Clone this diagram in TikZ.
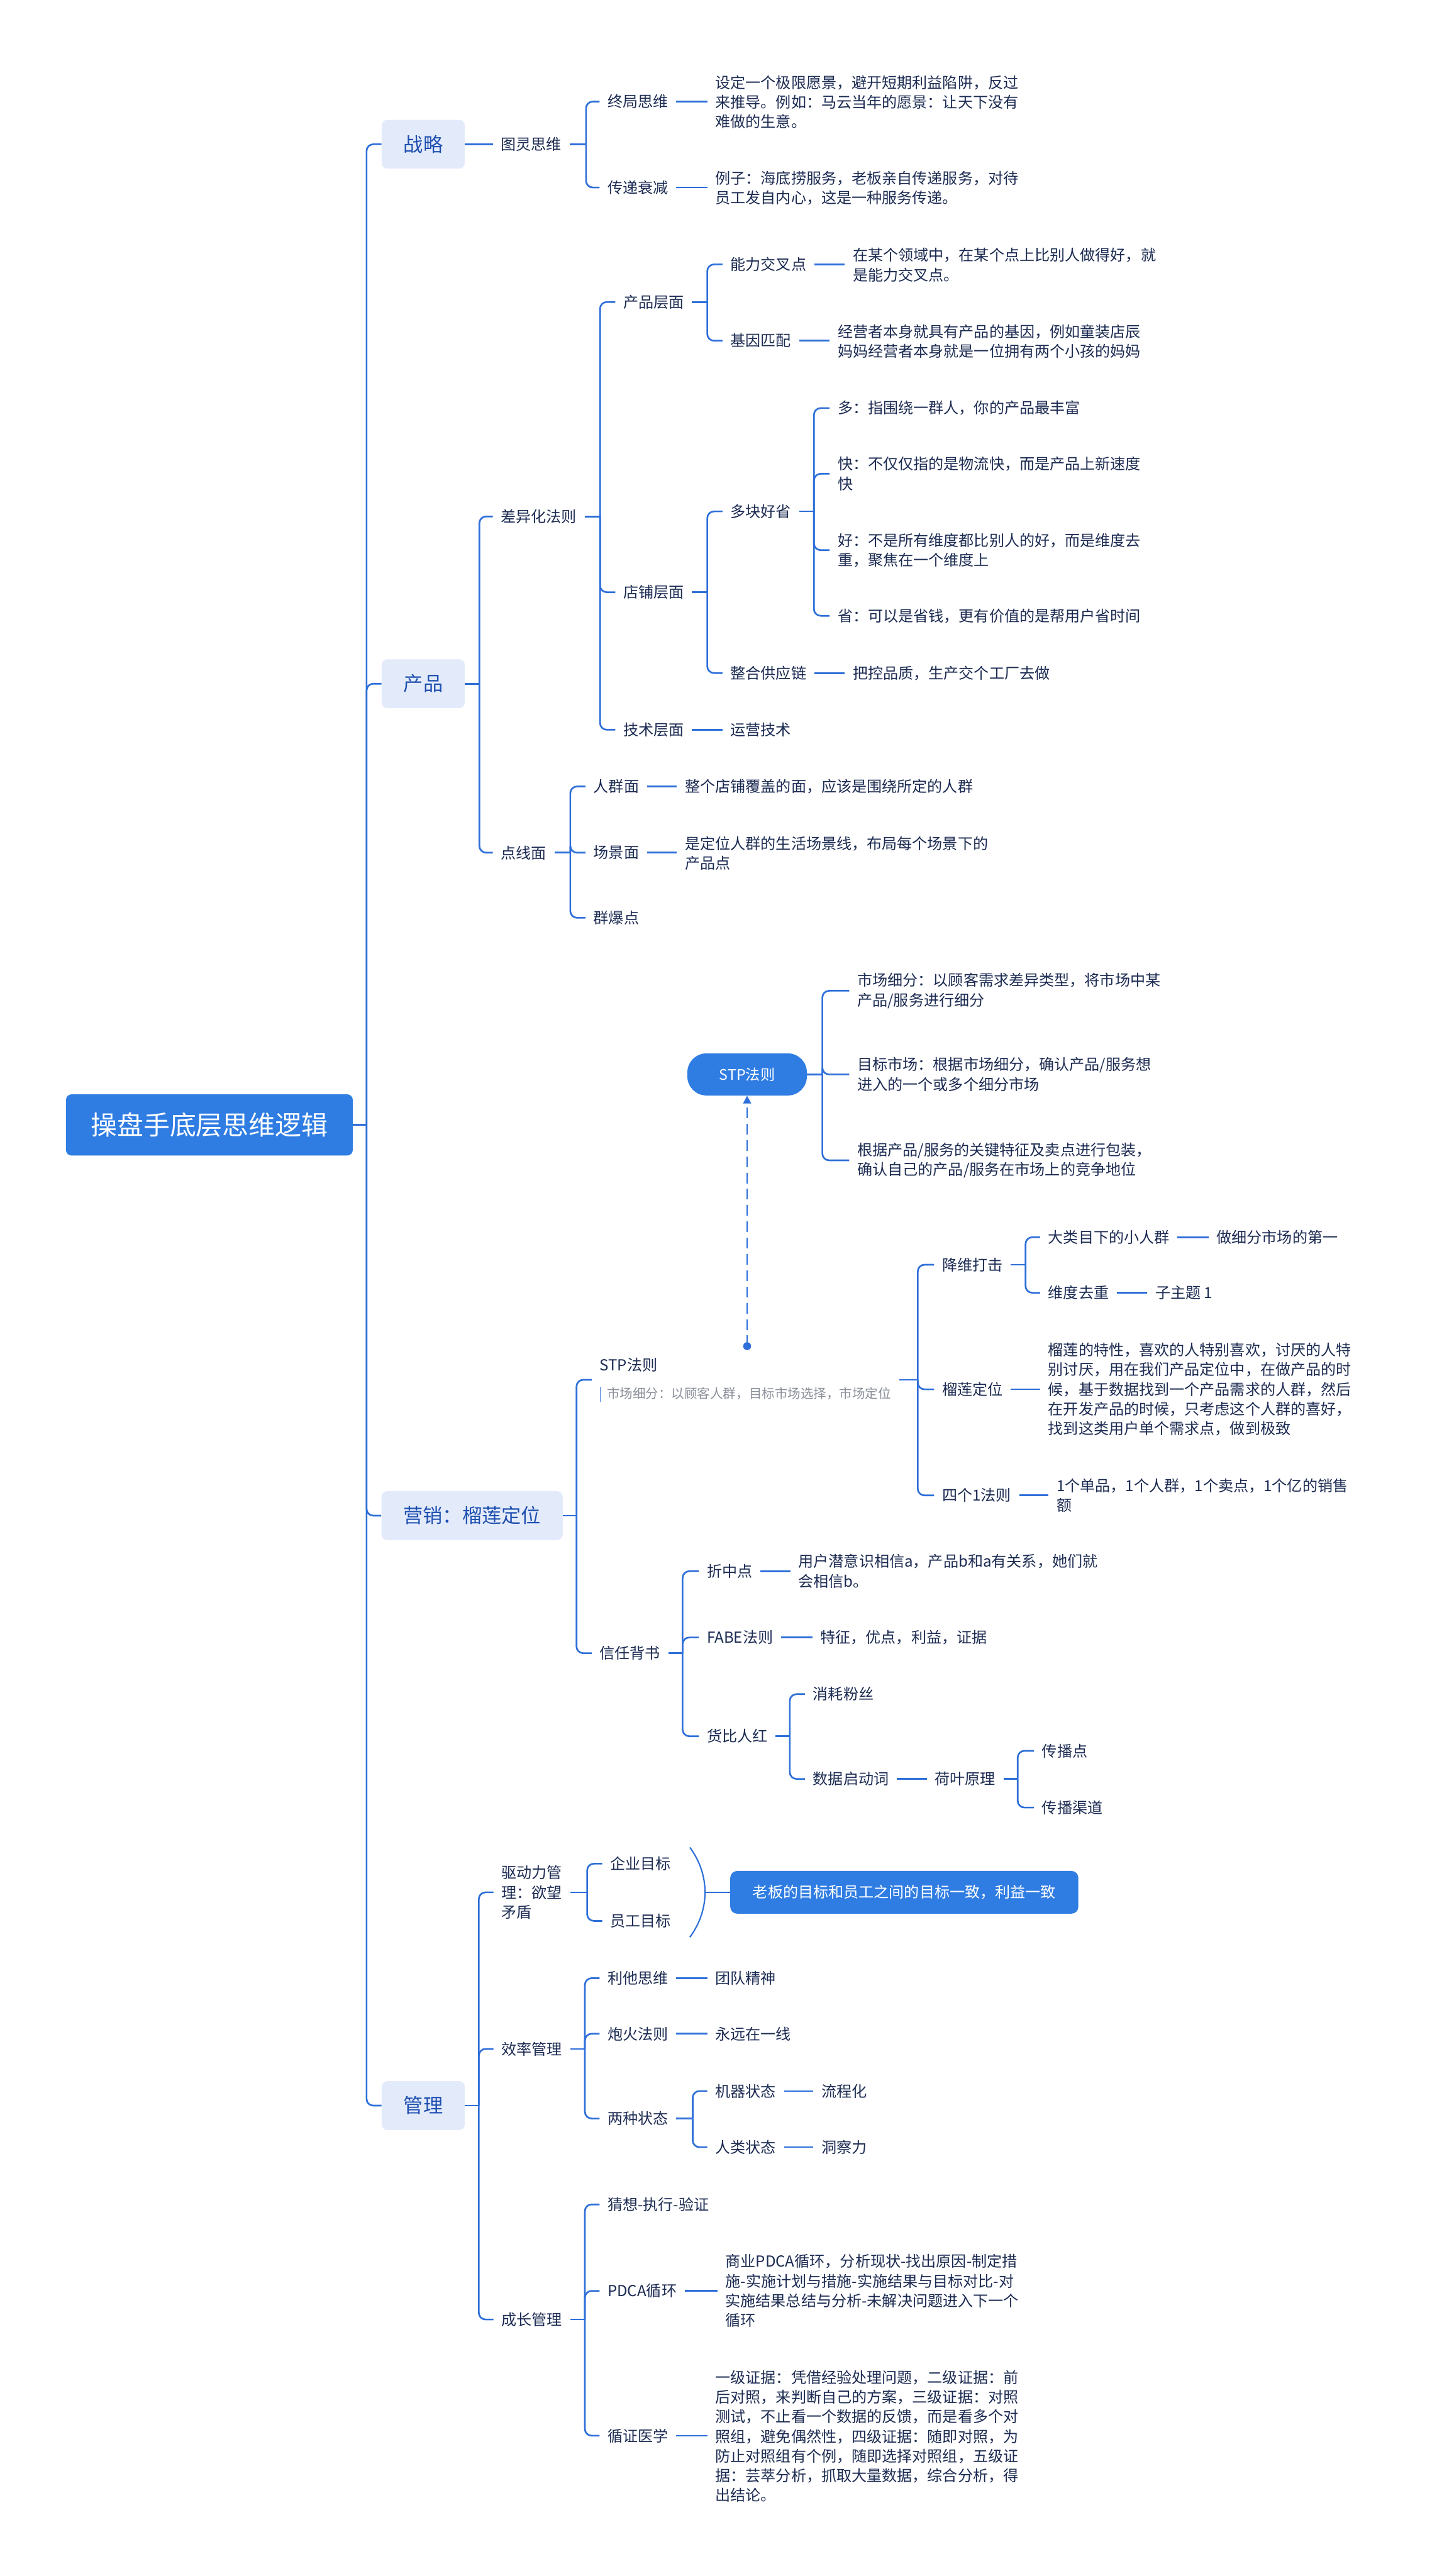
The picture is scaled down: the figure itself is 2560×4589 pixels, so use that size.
\documentclass[tikz,border=0pt]{standalone}
\usepackage{fontspec}
\setmainfont{Noto Sans CJK SC}
\usetikzlibrary{arrows.meta,calc}
\definecolor{lnc}{HTML}{2E6FD9}
\definecolor{txc}{HTML}{1C2B52}
\definecolor{l1fill}{HTML}{E3EBFB}
\definecolor{l1txt}{HTML}{1E4FAF}
\definecolor{rootfill}{HTML}{2F7DE3}
\definecolor{notec}{HTML}{8A8F99}
\definecolor{barc}{HTML}{7FA6E8}
\newcommand\bodyf{\fontsize{13.5pt}{17.5pt}\selectfont}
\newcommand\notef{\fontsize{11.5pt}{14pt}\selectfont}
\newcommand\kids[3]{%
  \path (#1.east) coordinate (pe);
  \coordinate (sp) at (#2,0);
  \draw[conn] (pe) -- (pe -| sp);
  \foreach \kk in {#3} {\draw[conn,rounded corners=6pt] (pe -| sp) |- (\kk.west);}
}
\newcommand\lnk[2]{\draw[conn] (#1.east) -- (#1.east -| #2.west);}
\begin{document}
\begin{tikzpicture}[x=0.5pt,y=-0.5pt,
  conn/.style={draw=lnc,line width=1.5pt},
  t/.style={anchor=west,inner xsep=7pt,inner ysep=2pt,align=left,text=txc,font=\bodyf},
  l1/.style={anchor=center,fill=l1fill,rounded corners=5pt,inner xsep=19.5pt,minimum height=43.5pt,text=l1txt,font=\fontsize{17.5pt}{21pt}\selectfont},
  rootbox/.style={anchor=center,fill=rootfill,rounded corners=5pt,minimum width=255.5pt,minimum height=54.5pt,text=white,font=\fontsize{23.5pt}{28pt}\selectfont},
  bubble/.style={anchor=center,fill=rootfill,rounded corners=17pt,minimum width=106.5pt,minimum height=37.5pt,text=white,font=\fontsize{13pt}{16pt}\selectfont},
  sumbox/.style={anchor=center,fill=rootfill,rounded corners=6pt,minimum width=310pt,minimum height=38pt,text=white,font=\bodyf}
]
\useasboundingbox (0,0) rectangle (2560,4589);
\fill[white] (0,0) rectangle (2560,4589);

% root and level 1
\node[rootbox] (root) at (373,2004) {操盘手底层思维逻辑};
\node[l1] (zl) at (754,257) {战略};
\node[l1] (cp) at (754,1218) {产品};
\node[l1] (yx) at (841,2700) {营销：榴莲定位};
\node[l1] (gl) at (754,3751) {管理};
\kids{root}{653}{zl,cp,yx,gl}

% ---------- 战略
\node[t] (tl) at (878,257) {图灵思维};
\node[t] (jj) at (1068,181) {终局思维};
\node[t] (jjL) at (1260,182) {设定一个极限愿景，避开短期利益陷阱，反过\\来推导。例如：马云当年的愿景：让天下没有\\难做的生意。};
\node[t] (cd) at (1068,334) {传递衰减};
\node[t] (cdL) at (1260,335) {例子：海底捞服务，老板亲自传递服务，对待\\员工发自内心，这是一种服务传递。};
\lnk{zl}{tl}
\kids{tl}{1044}{jj,cd}
\lnk{jj}{jjL}
\lnk{cd}{cdL}

% ---------- 产品
\node[t] (cy) at (878,920) {差异化法则};
\node[t] (dx) at (878,1519) {点线面};
\kids{cp}{854}{cy,dx}
\node[t] (cpc) at (1096,538) {产品层面};
\node[t] (dp) at (1096,1055) {店铺层面};
\node[t] (js) at (1096,1300) {技术层面};
\kids{cy}{1069}{cpc,dp,js}
\node[t] (nl) at (1287,471) {能力交叉点};
\node[t] (nlL) at (1505,472) {在某个领域中，在某个点上比别人做得好，就\\是能力交叉点。};
\node[t] (jy) at (1287,607) {基因匹配};
\node[t] (jyL) at (1478,608) {经营者本身就具有产品的基因，例如童装店辰\\妈妈经营者本身就是一位拥有两个小孩的妈妈};
\kids{cpc}{1260}{nl,jy}
\lnk{nl}{nlL}
\lnk{jy}{jyL}
\node[t] (dk) at (1287,911) {多块好省};
\node[t] (zh) at (1287,1199) {整合供应链};
\kids{dp}{1260}{dk,zh}
\node[t] (d1) at (1478,727) {多：指围绕一群人，你的产品最丰富};
\node[t] (d2) at (1478,844) {快：不仅仅指的是物流快，而是产品上新速度\\快};
\node[t] (d3) at (1478,980) {好：不是所有维度都比别人的好，而是维度去\\重，聚焦在一个维度上};
\node[t] (d4) at (1478,1097) {省：可以是省钱，更有价值的是帮用户省时间};
\kids{dk}{1450}{d1,d2,d3,d4}
\node[t] (zhL) at (1505,1199) {把控品质，生产交个工厂去做};
\lnk{zh}{zhL}
\node[t] (jsL) at (1287,1300) {运营技术};
\lnk{js}{jsL}
\node[t] (rq) at (1043,1401) {人群面};
\node[t] (cj) at (1043,1519) {场景面};
\node[t] (qb) at (1043,1635) {群爆点};
\kids{dx}{1016}{rq,cj,qb}
\node[t] (rqL) at (1206,1401) {整个店铺覆盖的面，应该是围绕所定的人群};
\node[t] (cjL) at (1206,1520) {是定位人群的生活场景线，布局每个场景下的\\产品点};
\lnk{rq}{rqL}
\lnk{cj}{cjL}

% ---------- 营销
\node[t] (stp) at (1054,2458) {STP法则\\[7pt]{\notef\textcolor{barc}{\rule[-3pt]{1.5pt}{13pt}}\hspace{5pt}\textcolor{notec}{市场细分：以顾客人群，目标市场选择，市场定位}}};
\node[t] (xr) at (1054,2945) {信任背书};
\kids{yx}{1027}{stp,xr}
\node[bubble] (bub) at (1331,1914) {STP法则};
\coordinate (stpdot) at (1331,2398);
\draw[draw=lnc,line width=1.5pt,dash pattern=on 9.5pt off 5pt,-{Triangle[length=7pt,width=7pt]}] (stpdot) -- (bub.south);
\fill[lnc] (stpdot) circle (3.5pt);
\node[t] (b1) at (1513,1765) {市场细分：以顾客需求差异类型，将市场中某\\产品/服务进行细分};
\node[t] (b2) at (1513,1914) {目标市场：根据市场细分，确认产品/服务想\\进入的一个或多个细分市场};
\node[t] (b3) at (1513,2067) {根据产品/服务的关键特征及卖点进行包装，\\确认自己的产品/服务在市场上的竞争地位};
\kids{bub}{1465}{b1,b2,b3}
\node[t] (jw) at (1664,2253) {降维打击};
\node[t] (ll) at (1664,2475) {榴莲定位};
\node[t] (s1) at (1664,2664) {四个1法则};
\kids{stp}{1635}{jw,ll,s1}
\node[t] (dl) at (1853,2204) {大类目下的小人群};
\node[t] (wd) at (1853,2303) {维度去重};
\kids{jw}{1827}{dl,wd}
\node[t] (dlL) at (2153,2204) {做细分市场的第一};
\node[t] (wdL) at (2044,2303) {子主题 1};
\lnk{dl}{dlL}
\lnk{wd}{wdL}
\node[t] (llL) at (1853,2475) {榴莲的特性，喜欢的人特别喜欢，讨厌的人特\\别讨厌，用在我们产品定位中，在做产品的时\\候，基于数据找到一个产品需求的人群，然后\\在开发产品的时候，只考虑这个人群的喜好，\\找到这类用户单个需求点，做到极致};
\lnk{ll}{llL}
\node[t] (s1L) at (1868,2664) {1个单品，1个人群，1个卖点，1个亿的销售\\额};
\lnk{s1}{s1L}
\node[t] (zz) at (1245,2799) {折中点};
\node[t] (fb) at (1245,2917) {FABE法则};
\node[t] (hb) at (1245,3093) {货比人红};
\kids{xr}{1216}{zz,fb,hb}
\node[t] (zzL) at (1408,2799) {用户潜意识相信a，产品b和a有关系，她们就\\会相信b。};
\node[t] (fbL) at (1447,2917) {特征，优点，利益，证据};
\lnk{zz}{zzL}
\lnk{fb}{fbL}
\node[t] (xh) at (1434,3018) {消耗粉丝};
\node[t] (sj) at (1434,3169) {数据启动词};
\kids{hb}{1407}{xh,sj}
\node[t] (hy) at (1651,3169) {荷叶原理};
\lnk{sj}{hy}
\node[t] (cb1) at (1842,3119) {传播点};
\node[t] (cb2) at (1842,3220) {传播渠道};
\kids{hy}{1813}{cb1,cb2}

% ---------- 管理
\node[t] (qd) at (879,3371) {驱动力管\\理：欲望\\矛盾};
\node[t] (xl) at (879,3650) {效率管理};
\node[t] (cz) at (879,4132) {成长管理};
\kids{gl}{853}{qd,xl,cz}
\node[t] (qy) at (1073,3320) {企业目标};
\node[t] (yg) at (1073,3422) {员工目标};
\kids{qd}{1046}{qy,yg}
\coordinate (brk) at (1256,3371);
\draw[draw=lnc,line width=1.2pt] (1229,3291) .. controls (1265,3340) and (1265,3402) .. (1229,3451);
\node[sumbox] (sb) at (1611,3371) {老板的目标和员工之间的目标一致，利益一致};
\draw[conn] (brk) -- (sb.west);
\node[t] (lt) at (1068,3524) {利他思维};
\node[t] (ph) at (1068,3623) {炮火法则};
\node[t] (lz) at (1068,3774) {两种状态};
\kids{xl}{1042}{lt,ph,lz}
\node[t] (ltL) at (1260,3524) {团队精神};
\node[t] (phL) at (1260,3623) {永远在一线};
\lnk{lt}{ltL}
\lnk{ph}{phL}
\node[t] (jq) at (1260,3725) {机器状态};
\node[t] (rl) at (1260,3825) {人类状态};
\kids{lz}{1234}{jq,rl}
\node[t] (jqL) at (1449,3725) {流程化};
\node[t] (rlL) at (1449,3825) {洞察力};
\lnk{jq}{jqL}
\lnk{rl}{rlL}
\node[t] (cx) at (1068,3927) {猜想-执行-验证};
\node[t] (pd) at (1068,4081) {PDCA循环};
\node[t] (xz) at (1068,4339) {循证医学};
\kids{cz}{1042}{cx,pd,xz}
\node[t] (pdL) at (1278,4081) {商业PDCA循环，分析现状-找出原因-制定措\\施-实施计划与措施-实施结果与目标对比-对\\实施结果总结与分析-未解决问题进入下一个\\循环};
\lnk{pd}{pdL}
\node[t] (xzL) at (1260,4340) {一级证据：凭借经验处理问题，二级证据：前\\后对照，来判断自己的方案，三级证据：对照\\测试，不止看一个数据的反馈，而是看多个对\\照组，避免偶然性，四级证据：随即对照，为\\防止对照组有个例，随即选择对照组，五级证\\据：芸萃分析，抓取大量数据，综合分析，得\\出结论。};
\lnk{xz}{xzL}
\end{tikzpicture}
\end{document}
